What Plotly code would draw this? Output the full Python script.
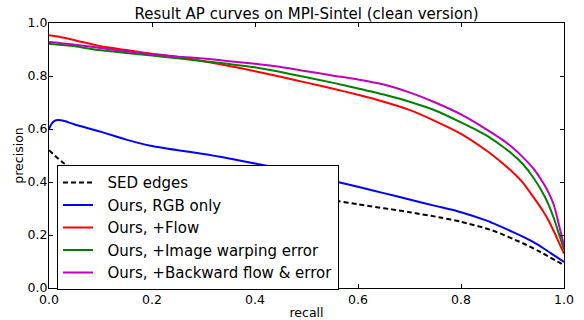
import plotly.graph_objects as go

recall = [0.0, 0.02, 0.05, 0.1, 0.15, 0.2, 0.25, 0.3, 0.35, 0.4, 0.45, 0.5, 0.55,
          0.6, 0.65, 0.7, 0.75, 0.8, 0.85, 0.88, 0.9, 0.92, 0.94, 0.96, 0.97,
          0.98, 0.99, 1.0]

flow = [0.954, 0.948, 0.935, 0.912, 0.898, 0.884, 0.872, 0.856, 0.838, 0.818,
        0.797, 0.775, 0.753, 0.729, 0.703, 0.672, 0.630, 0.582, 0.518, 0.472,
        0.438, 0.398, 0.345, 0.288, 0.255, 0.215, 0.172, 0.130]

warp = [0.922, 0.918, 0.912, 0.897, 0.887, 0.877, 0.867, 0.856, 0.845, 0.833,
        0.815, 0.795, 0.775, 0.753, 0.730, 0.703, 0.670, 0.625, 0.575, 0.535,
        0.505, 0.468, 0.418, 0.355, 0.315, 0.265, 0.205, 0.145]

backward = [0.928, 0.925, 0.918, 0.906, 0.893, 0.882, 0.873, 0.866, 0.856, 0.846,
            0.834, 0.818, 0.802, 0.787, 0.768, 0.738, 0.700, 0.655, 0.598, 0.560,
            0.530, 0.494, 0.452, 0.395, 0.360, 0.315, 0.240, 0.160]

rgb_recall = [0.0, 0.005, 0.01, 0.018, 0.03, 0.05, 0.1, 0.15, 0.2, 0.25, 0.3, 0.35,
              0.4, 0.45, 0.5, 0.55, 0.6, 0.65, 0.7, 0.75, 0.8, 0.85, 0.9, 0.92,
              0.94, 0.96, 0.98, 1.0]
rgb = [0.600, 0.620, 0.630, 0.634, 0.630, 0.617, 0.590, 0.560, 0.536, 0.520,
       0.506, 0.489, 0.470, 0.450, 0.428, 0.405, 0.382, 0.358, 0.334, 0.310,
       0.286, 0.254, 0.212, 0.194, 0.174, 0.150, 0.124, 0.098]

sed_recall = [0.0, 0.03, 0.06, 0.1, 0.15, 0.2, 0.3, 0.4, 0.5, 0.56, 0.6, 0.7,
              0.76, 0.8, 0.86, 0.92, 0.95, 1.0]
sed = [0.520, 0.469, 0.440, 0.415, 0.397, 0.383, 0.370, 0.358, 0.343, 0.328,
       0.316, 0.286, 0.266, 0.250, 0.218, 0.169, 0.140, 0.086]

series_names = ["SED edges", "Ours, RGB only", "Ours, +Flow",
                "Ours, +Image warping error", "Ours, +Backward flow & error"]

series = [
    (series_names[0], sed_recall, sed, "black", "5px,3px"),
    (series_names[1], rgb_recall, rgb, "#0000ff", "solid"),
    (series_names[2], recall, flow, "#ff0000", "solid"),
    (series_names[3], recall, warp, "#008000", "solid"),
    (series_names[4], recall, backward, "#bf00bf", "solid"),
]

fig = go.Figure()
for name, xs, ys, color, dash in series:
    fig.add_trace(go.Scatter(x=xs, y=ys, mode="lines", name="\u00a0\u00a0" + name,
                             line=dict(color=color, width=2, dash=dash, shape="spline",
                                       smoothing=0.6)))

ticks = [0.0, 0.2, 0.4, 0.6, 0.8, 1.0]
tick_text = ["0.0", "0.2", "0.4", "0.6", "0.8", "1.0"]
axis_common = dict(range=[0, 1], showgrid=False, zeroline=False, showline=True,
                   linecolor="black", linewidth=1, mirror="allticks",
                   ticks="inside", ticklen=4, tickcolor="black",
                   tickvals=ticks, ticktext=tick_text, automargin=False,
                   tickfont=dict(size=12.5, color="black"))

fig.update_layout(
    width=584, height=320,
    margin=dict(l=49, r=20, t=23, b=32),
    paper_bgcolor="white", plot_bgcolor="white",
    font=dict(family="DejaVu Sans", color="black"),
    title=dict(text="Result AP curves on MPI-Sintel (clean version)",
               x=0.5, xref="paper", xanchor="center",
               y=1 - 14 / 320, yref="container", yanchor="middle",
               font=dict(size=15, color="black")),
    xaxis=dict(title=dict(text="recall", font=dict(size=12.5), standoff=3), **axis_common),
    yaxis=dict(title=dict(text="precision", font=dict(size=12.5), standoff=1),
               ticklabelstandoff=-2, **axis_common),
    legend=dict(x=0.0155, y=0.463, xanchor="left", yanchor="top",
                bgcolor="white", bordercolor="black", borderwidth=1,
                font=dict(size=15, color="black"), tracegroupgap=0),
    showlegend=True,
)

# remove the browser's default 8px body margin so the figure sits at the page corner
fig.write_html("out.html", config={"displayModeBar": False},
               post_script="document.body.style.margin='0';")
